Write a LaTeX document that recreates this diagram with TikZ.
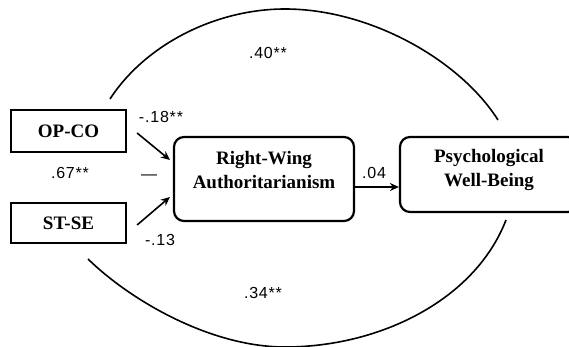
\documentclass[tikz,border=0pt]{standalone}
\usepackage{fontspec}
\setmainfont{Liberation Serif}
\newfontfamily\labfont[LetterSpace=5]{Liberation Sans}
\usetikzlibrary{arrows.meta}
\begin{document}
\begin{tikzpicture}[x=1pt,y=-1pt,
  sqbox/.style={draw,line width=2.2pt,inner sep=0pt,font=\bfseries\fontsize{19}{24}\selectfont},
  rbox/.style={draw,line width=2.2pt,rounded corners=10pt,inner sep=0pt},
  boxtext/.style={align=center,inner sep=0pt,font=\bfseries\fontsize{19}{24}\selectfont},
  coef/.style={inner sep=0pt,font=\labfont\fontsize{16}{18}\selectfont},
  path/.style={line width=1.6pt,-{Stealth[length=9pt,width=8pt]}},
  corr/.style={line width=1.6pt}]
\clip (0,0) rectangle (569,347);
\useasboundingbox (0,0) rectangle (569,347);
% boxes
\node[sqbox,minimum width=115pt,minimum height=42pt] (opco) at (68.5,131) {OP-CO};
\node[sqbox,minimum width=115pt,minimum height=40pt] (stse) at (68.5,223) {ST-SE};
\node[rbox,minimum width=180pt,minimum height=84pt] (rwa) at (264,179) {};
\node[boxtext] (rwatext) at (264,170) {Right-Wing\\Authoritarianism};
\node[rbox,minimum width=178pt,minimum height=75pt] (pwb) at (489,174.5) {};
\node[boxtext] (pwbtext) at (489,170) {Psychological\\Well-Being};
% paths
\draw[path] ([xshift=10pt,yshift=-2pt]opco.east) -- ([xshift=-3pt,yshift=19pt]rwa.west);
\draw[path] ([xshift=10pt,yshift=-2pt]stse.east) -- ([xshift=-3pt,yshift=-18pt]rwa.west);
\draw[path] ([yshift=-8pt]rwa.east) -- ([yshift=-12.5pt]pwb.west);
% correlations
\coordinate (ua) at (110,99);
\coordinate (ut) at (285,9);
\coordinate (ue) at (498,120);
\coordinate (la) at (88,259);
\coordinate (lb) at (285,347);
\coordinate (le) at (506,220);
\draw[corr] (ua) .. controls (145,45) and (215,9) .. (ut) .. controls (370,9) and (460,60) .. (ue);
\draw[corr] (la) .. controls (130,300) and (210,347) .. (lb) .. controls (380,347) and (475,300) .. (le);
% coefficients
\node[coef] (c40) at (268,53) {.40**};
\node[coef] (c34) at (263,293) {.34**};
\node[coef] (c18) at (161,117) {-.18**};
\node[coef] (c67) at (70,173) {.67**};
\node[coef] (cdash) at (149,177) {—};
\node[coef] (c13) at (160,240) {-.13};
\node[coef] (c04) at (374,173) {.04};
\end{tikzpicture}
\end{document}
